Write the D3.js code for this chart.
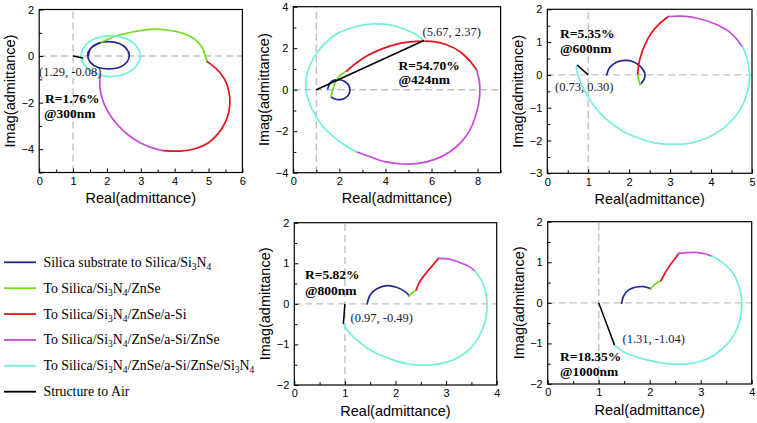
<!DOCTYPE html>
<html><head><meta charset="utf-8">
<script src="https://cdn.jsdelivr.net/npm/d3@7"></script>
<style>body{margin:0;background:#fff}svg{display:block}</style>
</head><body>
<svg id="chart" width="757" height="423"></svg>
<script>
// ---------- DATA ----------
const layerNames = [
  "Silica substrate to Silica/Si_3N_4",
  "To Silica/Si_3N_4/ZnSe",
  "To Silica/Si_3N_4/ZnSe/a-Si",
  "To Silica/Si_3N_4/ZnSe/a-Si/ZnSe",
  "To Silica/Si_3N_4/ZnSe/a-Si/ZnSe/Si_3N_4",
  "Structure to Air"
];
const wavelengths = ["300nm", "424nm", "600nm", "800nm", "1000nm"];
const reflectances = ["1.76%", "54.70%", "5.35%", "5.82%", "18.35%"];
const finalPoints = [[1.29, -0.08], [5.67, 2.37], [0.73, 0.30], [0.97, -0.49], [1.31, -1.04]];
const airPoint = [1, 0];

// tick values
const xTicks300 = [0, 1, 2, 3, 4, 5, 6];
const xMinor300 = [0.5, 1.5, 2.5, 3.5, 4.5, 5.5];
const yTicks300 = [-4, -2, 0, 2];
const yMinor300 = [-5, -3, -1, 1];
const xTicks424 = [0, 2, 4, 6, 8];
const xMinor424 = [1, 3, 5, 7, 9];
const yTicks424 = [-4, -2, 0, 2, 4];
const yMinor424 = [-3, -1, 1, 3];
const xTicks600 = [0, 1, 2, 3, 4, 5];
const xMinor600 = [0.5, 1.5, 2.5, 3.5, 4.5];
const yTicks600 = [-3, -2, -1, 0, 1, 2];
const yMinor600 = [-2.5, -1.5, -0.5, 0.5, 1.5];
const xTicks800 = [0, 1, 2, 3, 4];
const xMinor800 = [0.5, 1.5, 2.5, 3.5];
const yTicks800 = [-2, -1, 0, 1, 2];
const yMinor800 = [-1.5, -0.5, 0.5, 1.5];

// admittance loci (Real, Imag), one array per layer
const blue300 = [[1.45,0.02],[1.52,0.33],[1.74,0.55],[2.04,0.62],[2.35,0.55],[2.57,0.33],[2.66,0.03],[2.58,-0.28],[2.36,-0.49],[2.05,-0.55],[1.74,-0.49],[1.52,-0.28],[1.43,0.02],[1.52,0.33],[1.84,0.59]];
const green300 = [[1.84,0.59],[2.19,0.83],[2.58,0.98],[2.98,1.09],[3.30,1.15],[3.76,1.12],[4.26,0.97],[4.60,0.72],[4.80,0.40],[4.90,0.04],[4.96,-0.24]];
const red300 = [[4.96,-0.24],[5.14,-0.43],[5.34,-0.72],[5.51,-1.10],[5.60,-1.53],[5.63,-1.89],[5.60,-2.39],[5.49,-2.86],[5.29,-3.32],[5.00,-3.72],[4.60,-3.98],[4.16,-4.08],[3.67,-4.06]];
const magenta300 = [[3.67,-4.06],[3.32,-3.93],[2.98,-3.72],[2.63,-3.39],[2.34,-3.00],[2.09,-2.53],[1.91,-2.03],[1.81,-1.53],[1.79,-1.10],[1.80,-0.82]];
const cyan300 = [[1.80,-0.82],[1.50,-0.62],[1.30,-0.30],[1.24,0.00],[1.35,0.44],[1.67,0.76],[2.11,0.88],[2.55,0.76],[2.86,0.44],[2.98,0.00],[2.86,-0.44],[2.55,-0.76],[2.11,-0.88],[1.80,-0.82],[1.50,-0.62],[1.30,-0.30],[1.29,-0.08]];

const blue424 = [[1.50,0.05],[1.60,0.33],[1.78,0.46],[2.00,0.48],[2.22,0.41],[2.39,0.24],[2.46,0.00],[2.40,-0.25],[2.22,-0.42],[2.00,-0.48],[1.80,-0.45],[1.64,-0.34]];
const green424 = [[1.64,-0.34],[1.70,-0.05],[1.81,0.31],[1.96,0.60],[2.14,0.78],[2.32,0.90]];
const red424 = [[2.32,0.90],[2.75,1.30],[3.26,1.67],[3.91,1.99],[4.63,2.23],[5.36,2.33],[6.01,2.33],[6.66,2.17],[7.24,1.83],[7.67,1.38],[7.96,0.95]];
const magenta424 = [[7.96,0.95],[8.08,0.39],[8.10,-0.09],[8.05,-0.66],[7.90,-1.30],[7.67,-1.94],[7.31,-2.50],[6.80,-2.99],[6.15,-3.36],[5.43,-3.55],[4.71,-3.58],[3.98,-3.47],[3.33,-3.23],[2.73,-2.99]];
const cyan424 = [[2.73,-2.99],[2.32,-2.74],[1.74,-2.26],[1.23,-1.70],[0.80,-0.90],[0.55,-0.01],[0.61,0.79],[0.87,1.51],[1.30,2.15],[1.88,2.68],[2.61,3.01],[3.47,3.17],[4.20,3.12],[4.92,2.88],[5.36,2.64],[5.67,2.37]];

const blue600 = [[1.45,0.00],[1.52,0.22],[1.68,0.38],[1.90,0.44],[2.10,0.40],[2.28,0.25],[2.38,0.05],[2.37,-0.12],[2.27,-0.29]];
const green600 = [[2.27,-0.29],[2.23,-0.14],[2.21,0.03]];
const red600 = [[2.21,0.03],[2.23,0.30],[2.29,0.61],[2.40,0.96],[2.55,1.29],[2.73,1.55],[2.96,1.78]];
const magenta600 = [[2.96,1.78],[3.29,1.79],[3.69,1.72],[4.10,1.55],[4.47,1.29],[4.77,0.86]];
const cyan600 = [[4.77,0.86],[4.88,0.51],[4.94,0.03],[4.91,-0.41],[4.79,-0.87],[4.59,-1.27],[4.30,-1.63],[3.94,-1.90],[3.53,-2.07],[3.08,-2.12],[2.63,-2.07],[2.23,-1.93],[1.82,-1.70],[1.41,-1.32],[1.10,-0.87],[0.88,-0.41],[0.76,-0.05],[0.71,0.20],[0.73,0.30]];

const blue800 = [[1.44,0.00],[1.50,0.22],[1.63,0.37],[1.83,0.45],[2.02,0.41],[2.19,0.30],[2.27,0.20]];
const green800 = [[2.27,0.20],[2.34,0.28],[2.41,0.34]];
const red800 = [[2.41,0.34],[2.46,0.50],[2.58,0.72],[2.72,0.93],[2.85,1.12]];
const magenta800 = [[2.85,1.12],[3.08,1.10],[3.27,1.02],[3.44,0.93],[3.57,0.81]];
const cyan800 = [[3.57,0.81],[3.69,0.59],[3.78,0.30],[3.81,0.00],[3.79,-0.32],[3.72,-0.63],[3.59,-0.93],[3.41,-1.18],[3.16,-1.37],[2.85,-1.48],[2.52,-1.51],[2.19,-1.47],[1.86,-1.34],[1.56,-1.18],[1.30,-0.96],[1.10,-0.73],[1.00,-0.56],[0.97,-0.49]];

const blue1000 = [[1.45,-0.01],[1.49,0.17],[1.59,0.32],[1.74,0.39],[1.88,0.40],[2.02,0.35]];
const green1000 = [[2.02,0.35],[2.10,0.45],[2.22,0.55]];
const red1000 = [[2.22,0.55],[2.30,0.73],[2.40,0.93],[2.50,1.10],[2.57,1.22]];
const magenta1000 = [[2.57,1.22],[2.76,1.24],[2.95,1.24],[3.08,1.21],[3.22,1.15]];
const cyan1000 = [[3.22,1.15],[3.41,1.01],[3.61,0.77],[3.74,0.44],[3.80,0.11],[3.80,-0.18],[3.74,-0.55],[3.61,-0.87],[3.41,-1.15],[3.15,-1.37],[2.82,-1.49],[2.43,-1.51],[2.10,-1.45],[1.78,-1.35],[1.52,-1.23],[1.31,-1.04]];

// ---------- DRAWING ----------
const colors = ["#1f2a8c", "#74dc1e", "#e4121c", "#c64bd9", "#74efda", "#000000"];
const SANS = "'Liberation Sans', Arial, sans-serif";
const SERIF = "'Liberation Serif', 'Times New Roman', serif";
const svg = d3.select("#chart");

const panels = [
  { loci:[blue300,green300,red300,magenta300,cyan300], k:0,
    xd:[0,6], xr:[39.2,242.4], yd:[-5,2], yr:[172.5,9.5],
    xt:xTicks300, xm:xMinor300, yt:yTicks300, ym:yMinor300,
    coord:[39,76], rpos:[45,103], wpos:[44,117.5] },
  { loci:[blue424,green424,red424,magenta424,cyan424], k:1,
    xd:[0,9], xr:[293.3,500.6], yd:[-4,4], yr:[172.7,6.7],
    xt:xTicks424, xm:xMinor424, yt:yTicks424, ym:yMinor424,
    coord:[422.5,36], rpos:[398.5,69.5], wpos:[398.5,84] },
  { loci:[blue600,green600,red600,magenta600,cyan600], k:2,
    xd:[0,5], xr:[547.3,752], yd:[-3,2], yr:[173.3,9.3],
    xt:xTicks600, xm:xMinor600, yt:yTicks600, ym:yMinor600,
    coord:[555,90.5], rpos:[560,38], wpos:[560,53] },
  { loci:[blue800,green800,red800,magenta800,cyan800], k:3,
    xd:[0,4], xr:[294.3,496.7], yd:[-2,2], yr:[385,222.7],
    xt:xTicks800, xm:xMinor800, yt:yTicks800, ym:yMinor800,
    coord:[350.5,322], rpos:[305,279], wpos:[305,294.5] },
  { loci:[blue1000,green1000,red1000,magenta1000,cyan1000], k:4,
    xd:[0,4], xr:[547.7,751.7], yd:[-2,2], yr:[384,221.7],
    xt:xTicks800, xm:xMinor800, yt:yTicks800, ym:yMinor800,
    coord:[622.5,343], rpos:[560,361], wpos:[560,375.5] }
];

function fmtCoord(p){ return "(" + p[0].toFixed(2) + ", " + p[1].toFixed(2) + ")"; }

panels.forEach(cfg => {
  const x = d3.scaleLinear().domain(cfg.xd).range(cfg.xr);
  const y = d3.scaleLinear().domain(cfg.yd).range(cfg.yr);
  const g = svg.append("g");
  const [x0, x1] = cfg.xr, [yb, yt] = cfg.yr;

  // dashed reference lines (Re=1, Im=0)
  g.append("line").attr("x1", x(airPoint[0])).attr("x2", x(airPoint[0]))
    .attr("y1", yb).attr("y2", yt)
    .attr("stroke", "#b9c3cb").attr("stroke-width", 1.4).attr("stroke-dasharray", "7,4");
  g.append("line").attr("x1", x0).attr("x2", x1)
    .attr("y1", y(airPoint[1])).attr("y2", y(airPoint[1]))
    .attr("stroke", "#b9c3cb").attr("stroke-width", 1.4).attr("stroke-dasharray", "7,4");

  const line = d3.line().x(d => x(d[0])).y(d => y(d[1])).curve(d3.curveCatmullRom.alpha(0.5));
  cfg.loci.forEach((pts, i) => {
    g.append("path").attr("d", line(pts)).attr("fill", "none")
      .attr("stroke", colors[i]).attr("stroke-width", 1.7)
      .attr("stroke-linejoin", "round").attr("stroke-linecap", "round");
  });
  const fp = finalPoints[cfg.k];
  g.append("path").attr("d", d3.line().x(d => x(d[0])).y(d => y(d[1]))([airPoint, fp]))
    .attr("fill", "none").attr("stroke", colors[5]).attr("stroke-width", 1.5);

  // axes (inward ticks)
  const ax = g.append("g").attr("transform", `translate(0,${yb})`)
    .call(d3.axisBottom(x).tickValues(cfg.xt).tickSizeInner(-4).tickSizeOuter(0).tickPadding(4.5).tickFormat(d3.format("d")));
  ax.select(".domain").remove();
  const axm = g.append("g").attr("transform", `translate(0,${yb})`)
    .call(d3.axisBottom(x).tickValues(cfg.xm).tickSizeInner(-3).tickSizeOuter(0).tickFormat(""));
  axm.select(".domain").remove();
  axm.selectAll("text").remove();
  const ay = g.append("g").attr("transform", `translate(${x0},0)`)
    .call(d3.axisLeft(y).tickValues(cfg.yt).tickSizeInner(-4).tickSizeOuter(0).tickPadding(5).tickFormat(d3.format("d")));
  ay.select(".domain").remove();
  const aym = g.append("g").attr("transform", `translate(${x0},0)`)
    .call(d3.axisLeft(y).tickValues(cfg.ym).tickSizeInner(-3).tickSizeOuter(0).tickFormat(""));
  aym.select(".domain").remove();
  aym.selectAll("text").remove();
  g.selectAll(".tick text").attr("font-family", SANS).attr("font-size", 11).attr("fill", "#000");
  g.selectAll(".tick line").attr("stroke", "#000").attr("stroke-width", 1);

  // frame
  g.append("rect").attr("x", x0).attr("y", yt).attr("width", x1 - x0).attr("height", yb - yt)
    .attr("fill", "none").attr("stroke", "#000").attr("stroke-width", 1.2);

  // axis titles
  g.append("text").attr("x", (x0 + x1) / 2).attr("y", yb + 30.5).attr("text-anchor", "middle")
    .attr("font-family", SANS).attr("font-size", 14.5).text("Real(admittance)");
  const cy = (yb + yt) / 2, cx = x0 - 28 + 4;
  g.append("text").attr("transform", `translate(${cx},${cy}) rotate(-90)`).attr("text-anchor", "middle")
    .attr("font-family", SANS).attr("font-size", 14.5).text("Imag(admittance)");

  // annotations
  g.append("text").attr("x", cfg.coord[0]).attr("y", cfg.coord[1])
    .attr("font-family", SERIF).attr("font-size", 12.5).attr("fill", "#1c1c2c").text(fmtCoord(fp));
  g.append("text").attr("x", cfg.rpos[0]).attr("y", cfg.rpos[1])
    .attr("font-family", SERIF).attr("font-size", 13.5).attr("font-weight", "bold").text("R=" + reflectances[cfg.k]);
  g.append("text").attr("x", cfg.wpos[0]).attr("y", cfg.wpos[1])
    .attr("font-family", SERIF).attr("font-size", 13.5).attr("font-weight", "bold").text("@" + wavelengths[cfg.k]);
});

// legend
const leg = svg.append("g");
const legY = d3.scaleLinear().domain([0, layerNames.length - 1]).range([262.3, 391.7]);
layerNames.forEach((name, i) => {
  const yy = legY(i);
  leg.append("line").attr("x1", 4).attr("x2", 36).attr("y1", yy).attr("y2", yy)
    .attr("stroke", colors[i]).attr("stroke-width", 1.8);
  const t = leg.append("text").attr("x", 43.5).attr("y", yy + 4.5)
    .attr("font-family", SERIF).attr("font-size", 13.8).attr("fill", "#000");
  const parts = name.split(/_(\d)/).filter((p, j) => p !== "" || j % 2 === 1);
  let shifted = false;
  name.split(/_(\d)/).forEach((p, j) => {
    if (p === "") return;
    if (j % 2 === 1) {
      t.append("tspan").attr("font-size", 9.5).attr("dy", shifted ? 0 : 3).text(p);
      shifted = true;
    } else {
      const ts = t.append("tspan").text(p);
      if (shifted) { ts.attr("dy", -3); shifted = false; }
    }
  });
});
</script>
</body></html>
